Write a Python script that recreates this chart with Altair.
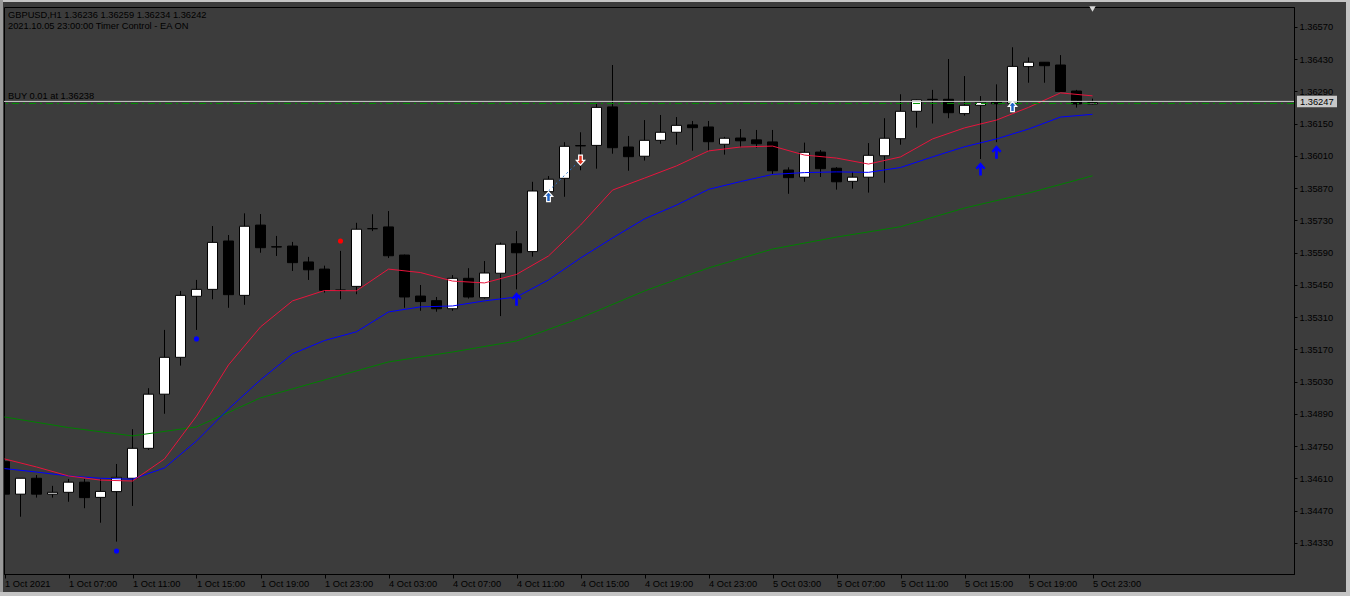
import altair as alt
import pandas as pd

FONT = "Liberation Sans"
FS = 9.3

# ---------------- data ----------------
bar_index = list(range(69))
opens = [1.34683, 1.34542, 1.34611, 1.34542, 1.34550, 1.34594, 1.34528, 1.34553, 1.34611, 1.34741,
         1.34976, 1.35136, 1.35401, 1.35431, 1.35641, 1.35405, 1.35710, 1.35616, 1.35619, 1.35550,
         1.35519, 1.35427, 1.35444, 1.35694, 1.35702, 1.35580, 1.35402, 1.35382, 1.35347, 1.35479,
         1.35395, 1.35501, 1.35629, 1.35595, 1.35855, 1.35913, 1.36055, 1.36056, 1.36223, 1.36049,
         1.36009, 1.36078, 1.36113, 1.36145, 1.36136, 1.36061, 1.36088, 1.36080, 1.36071, 1.35949,
         1.35918, 1.36027, 1.35957, 1.35900, 1.35918, 1.36011, 1.36085, 1.36204, 1.36256, 1.36256,
         1.36194, 1.36230, 1.36244, 1.36239, 1.36398, 1.36417, 1.36405, 1.36292, 1.36236]
highs = [1.34699, 1.34612, 1.34625, 1.34578, 1.34608, 1.34608, 1.34608, 1.34673, 1.34824, 1.35002,
         1.35255, 1.35424, 1.35472, 1.35706, 1.35667, 1.35761, 1.35758, 1.35663, 1.35637, 1.35572,
         1.35534, 1.35598, 1.35720, 1.35757, 1.35771, 1.35582, 1.35450, 1.35398, 1.35493, 1.35523,
         1.35554, 1.35634, 1.35684, 1.35898, 1.35923, 1.36070, 1.36113, 1.36236, 1.36405, 1.36097,
         1.36166, 1.36188, 1.36179, 1.36162, 1.36162, 1.36093, 1.36127, 1.36123, 1.36123, 1.35961,
         1.36068, 1.36036, 1.35962, 1.35941, 1.36066, 1.36174, 1.36278, 1.36256, 1.36297, 1.36431,
         1.36357, 1.36270, 1.36321, 1.36482, 1.36438, 1.36418, 1.36448, 1.36297, 1.36259]
lows = [1.34530, 1.34444, 1.34527, 1.34527, 1.34509, 1.34481, 1.34418, 1.34336, 1.34491, 1.34734,
        1.34891, 1.35100, 1.35255, 1.35388, 1.35351, 1.35364, 1.35590, 1.35576, 1.35511, 1.35472,
        1.35417, 1.35388, 1.35410, 1.35684, 1.35567, 1.35351, 1.35338, 1.35334, 1.35338, 1.35391,
        1.35391, 1.35315, 1.35431, 1.35573, 1.35819, 1.35833, 1.35948, 1.35955, 1.36020, 1.35946,
        1.35990, 1.36063, 1.36059, 1.36033, 1.36033, 1.36016, 1.36048, 1.36046, 1.35932, 1.35846,
        1.35898, 1.35919, 1.35864, 1.35868, 1.35851, 1.35894, 1.36059, 1.36133, 1.36151, 1.36174,
        1.36185, 1.35997, 1.36070, 1.36236, 1.36328, 1.36328, 1.36289, 1.36220, 1.36234]
closes = [1.34542, 1.34611, 1.34542, 1.34550, 1.34594, 1.34527, 1.34554, 1.34615, 1.34741, 1.34976,
          1.35136, 1.35405, 1.35431, 1.35635, 1.35408, 1.35705, 1.35612, 1.35615, 1.35547, 1.35516,
          1.35427, 1.35428, 1.35692, 1.35695, 1.35577, 1.35398, 1.35378, 1.35347, 1.35479, 1.35398,
          1.35502, 1.35627, 1.35590, 1.35858, 1.35909, 1.36052, 1.36054, 1.36221, 1.36046, 1.36007,
          1.36078, 1.36113, 1.36143, 1.36133, 1.36072, 1.36087, 1.36076, 1.36063, 1.35946, 1.35916,
          1.36026, 1.35955, 1.35898, 1.35918, 1.36013, 1.36087, 1.36204, 1.36254, 1.36255, 1.36198,
          1.36230, 1.36243, 1.36237, 1.36399, 1.36417, 1.36402, 1.36290, 1.36236, 1.36242]

ma_index = [0, 2, 4, 6, 8, 10, 12, 14, 16, 18, 20, 22, 24, 26, 28, 30, 32, 34, 36, 38,
            40, 42, 44, 46, 48, 50, 52, 54, 56, 58, 60, 62, 64, 66, 68]
ma_red = [1.34695, 1.34660, 1.34621, 1.34603, 1.34599, 1.34695, 1.34881, 1.35103, 1.35268, 1.35381,
          1.35426, 1.35425, 1.35519, 1.35504, 1.35467, 1.35459, 1.35496, 1.35576, 1.35710, 1.35862,
          1.35914, 1.35967, 1.36032, 1.36049, 1.36053, 1.36014, 1.36001, 1.35975, 1.36006, 1.36084,
          1.36132, 1.36166, 1.36221, 1.36284, 1.36271]
ma_blue = [1.34653, 1.34638, 1.34621, 1.34611, 1.34607, 1.34656, 1.34773, 1.34912, 1.35038, 1.35151,
           1.35209, 1.35247, 1.35333, 1.35355, 1.35359, 1.35381, 1.35398, 1.35472, 1.35567, 1.35654,
           1.35737, 1.35797, 1.35865, 1.35899, 1.35930, 1.35938, 1.35941, 1.35939, 1.35960, 1.36006,
           1.36050, 1.36084, 1.36127, 1.36179, 1.36191]
green_index = [0, 4, 8, 12, 16, 20, 24, 28, 32, 36, 40, 44, 48, 52, 56, 60, 64, 68]
ma_green = [1.34877, 1.34831, 1.34795, 1.34834, 1.34960, 1.35038, 1.35116, 1.35159, 1.35207, 1.35307,
            1.35424, 1.35524, 1.35606, 1.35658, 1.35703, 1.35784, 1.35849, 1.35924]

dot_index = [7, 12, 21]
dot_price = [1.34295, 1.35216, 1.35641]
dot_color = ["#0000ff", "#0000ff", "#ff0000"]

arrow_index = [32, 61, 62]
arrow_price = [1.35389, 1.35954, 1.36027]

buy_icon_index = [34, 63]
buy_icon_price = [1.35832, 1.36223]
sell_icon_index = [36]
sell_icon_price = [1.35993]

trade_index = [34, 36]
trade_price = [1.35858, 1.35993]

bid_price = 1.36247
order_price = 1.36238
order_text = "BUY 0.01 at 1.36238"
header_lines = ["GBPUSD,H1  1.36236 1.36259 1.36234 1.36242",
                "2021.10.05 23:00:00 Timer Control - EA ON"]

x_tick_index = [0, 4, 8, 12, 16, 20, 24, 28, 32, 36, 40, 44, 48, 52, 56, 60, 64, 68]
x_tick_labels = ["1 Oct 2021", "1 Oct 07:00", "1 Oct 11:00", "1 Oct 15:00", "1 Oct 19:00",
                 "1 Oct 23:00", "4 Oct 03:00", "4 Oct 07:00", "4 Oct 11:00", "4 Oct 15:00",
                 "4 Oct 19:00", "4 Oct 23:00", "5 Oct 03:00", "5 Oct 07:00", "5 Oct 11:00",
                 "5 Oct 15:00", "5 Oct 19:00", "5 Oct 23:00"]
y_ticks = [1.34330, 1.34470, 1.34610, 1.34750, 1.34890, 1.35030, 1.35170, 1.35310, 1.35450,
           1.35590, 1.35730, 1.35870, 1.36010, 1.36150, 1.36290, 1.36430, 1.36570]

# ---------------- tables ----------------
candles = pd.DataFrame({"i": bar_index, "o": opens, "h": highs, "l": lows, "c": closes})
mas = pd.DataFrame({"i": ma_index, "red": ma_red, "blue": ma_blue})
greens = pd.DataFrame({"i": green_index, "g": ma_green})
dots = pd.DataFrame({"i": dot_index, "p": dot_price, "col": dot_color})
arrows = pd.DataFrame({"i": arrow_index, "p": arrow_price})
buys = pd.DataFrame({"i": buy_icon_index, "p": buy_icon_price})
sells = pd.DataFrame({"i": sell_icon_index, "p": sell_icon_price})
trade = pd.DataFrame({"i": trade_index, "p": trade_price})
levels = pd.DataFrame({"p": [bid_price]})
orders = pd.DataFrame({"p": [order_price], "t": [order_text]})
last = pd.DataFrame({"i": [bar_index[-1]]})

# ---------------- scales / axes ----------------
xs = alt.Scale(domain=[-0.03125, 80.59375], nice=False, zero=False, padding=0)
ys = alt.Scale(domain=[1.341954, 1.366568], nice=False, zero=False, padding=0)

label_expr = "[" + ",".join("'%s'" % s for s in x_tick_labels) + "][round(datum.value/4)]"
xaxis = alt.Axis(values=x_tick_index, labelExpr=label_expr, labelAlign="left", labelBaseline="top",
                 labelPadding=1, labelOffset=0, tickSize=4, tickColor="black", domainColor="black",
                 labelColor="black", labelFont=FONT, labelFontSize=FS, grid=False, title=None,
                 labelOverlap=False, labelFlush=False, labelBound=False)
yaxis = alt.Axis(orient="right", values=y_ticks, format=".5f", tickSize=3, tickColor="black",
                 domainColor="black", labelColor="black", labelFont=FONT, labelFontSize=FS,
                 labelPadding=2, grid=False, title=None, labelOverlap=False, labelBound=False,
                 labelFlush=False)


def X(f):
    return alt.X(f, type="quantitative", scale=xs, axis=xaxis)


def Y(f):
    return alt.Y(f, type="quantitative", scale=ys, axis=yaxis)


wicks = alt.Chart(candles).mark_rule(color="black", strokeWidth=1, clip=True).encode(
    x=X("i"), y=Y("l"), y2="h")
bodies = alt.Chart(candles).mark_bar(size=10, stroke="black", strokeWidth=1, clip=True).encode(
    x=X("i"), y=Y("o"), y2="c",
    fill=alt.condition("datum.c > datum.o", alt.value("white"), alt.value("black")))

red_line = alt.Chart(mas).mark_line(color="#e8143c", strokeWidth=1, clip=True).encode(x=X("i"), y=Y("red"))
blue_line = alt.Chart(mas).mark_line(color="#0000ff", strokeWidth=1, clip=True).encode(x=X("i"), y=Y("blue"))
green_line = alt.Chart(greens).mark_line(color="#008000", strokeWidth=1, clip=True).encode(x=X("i"), y=Y("g"))

bid_rule = alt.Chart(levels).mark_rule(color="#d0d0d0", strokeWidth=1).encode(y=Y("p"))
order_rule = alt.Chart(orders).mark_rule(color="#009000", strokeWidth=1, strokeDash=[7, 4, 2, 4]).encode(y=Y("p"))
order_label = alt.Chart(orders).mark_text(align="left", baseline="alphabetic", dy=-4, font=FONT,
                                          fontSize=FS, color="black").encode(
    x=alt.value(4), y=Y("p"), text="t:N")

ARROW_UP = "M0,-1 L0.75,-0.15 L0.5,0.1 L0.2,-0.25 L0.2,1 L-0.2,1 L-0.2,-0.25 L-0.5,0.1 L-0.75,-0.15 Z"
ICON_UP = "M0,-1 L0.8,-0.1 L0.35,-0.1 L0.35,0.9 L-0.35,0.9 L-0.35,-0.1 L-0.8,-0.1 Z"
ICON_DOWN = "M0,1 L0.8,0.1 L0.35,0.1 L0.35,-0.9 L-0.35,-0.9 L-0.35,0.1 L-0.8,0.1 Z"

arrow_marks = alt.Chart(arrows).mark_point(shape=ARROW_UP, filled=True, color="#0000ff", size=180,
                                           opacity=1).encode(x=X("i"), y=Y("p"))
trade_line = alt.Chart(trade).mark_line(color="#2a78d0", strokeWidth=1, strokeDash=[2, 3]).encode(
    x=X("i"), y=Y("p"))
buy_marks = alt.Chart(buys).mark_point(shape=ICON_UP, filled=True, fill="#1e64c8", stroke="white",
                                       strokeWidth=1.2, size=110, opacity=1).encode(x=X("i"), y=Y("p"))
sell_marks = alt.Chart(sells).mark_point(shape=ICON_DOWN, filled=True, fill="#e0321e", stroke="white",
                                         strokeWidth=1.2, size=110, opacity=1).encode(x=X("i"), y=Y("p"))
dot_marks = alt.Chart(dots).mark_circle(size=26, opacity=1).encode(
    x=X("i"), y=Y("p"), color=alt.Color("col:N", scale=None))

shift_mark = alt.Chart(last).mark_point(shape="triangle-down", filled=True, color="#d8d8d8", size=40,
                                        opacity=1).encode(x=X("i"), y=alt.value(2))

price_box = alt.Chart(levels).transform_calculate(
    top="datum.p + 0.00025", bot="datum.p - 0.00025").mark_rect(color="#c8c8c8").encode(
    x=alt.value(1293), x2=alt.value(1333), y=Y("top:Q"), y2="bot:Q")
price_text = alt.Chart(levels).mark_text(align="left", baseline="middle", font=FONT, fontSize=FS,
                                         color="black", dy=0.5).encode(
    x=alt.value(1296), y=Y("p"), text=alt.Text("p:Q", format=".5f"))

header1 = alt.Chart(pd.DataFrame({"t": [header_lines[0]]})).mark_text(
    align="left", baseline="alphabetic", font=FONT, fontSize=FS, color="black").encode(
    x=alt.value(4), y=alt.value(10.5), text="t:N")
header2 = alt.Chart(pd.DataFrame({"t": [header_lines[1]]})).mark_text(
    align="left", baseline="alphabetic", font=FONT, fontSize=FS, color="black").encode(
    x=alt.value(4), y=alt.value(22), text="t:N")

frame_top = alt.Chart(last).mark_rect(color="#c4c4c4").encode(
    x=alt.value(-4), x2=alt.value(1346), y=alt.value(-7), y2=alt.value(-5))
frame_left = alt.Chart(last).mark_rect(color="#9a9a9a").encode(
    x=alt.value(-4), x2=alt.value(-1), y=alt.value(-7), y2=alt.value(589))
frame_right = alt.Chart(last).mark_rect(color="#c4c4c4").encode(
    x=alt.value(1342), x2=alt.value(1346), y=alt.value(-7), y2=alt.value(589))
frame_bottom = alt.Chart(last).mark_rect(color="#c4c4c4").encode(
    x=alt.value(-4), x2=alt.value(1346), y=alt.value(585), y2=alt.value(589))

chart = alt.layer(
    wicks, bodies, green_line, blue_line, red_line, trade_line,
    bid_rule, order_rule, order_label, arrow_marks, buy_marks, sell_marks, dot_marks,
    shift_mark, price_box, price_text, header1, header2,
    frame_top, frame_left, frame_right, frame_bottom
).properties(
    width=1290, height=567,
    padding={"left": 4, "top": 7, "right": 56, "bottom": 22},
    autosize=alt.AutoSizeParams(type="none"),
    background="#3c3c3c",
).configure_view(stroke="black", strokeWidth=1)

chart.save("out.html", embed_options={"renderer": "svg", "actions": False})
